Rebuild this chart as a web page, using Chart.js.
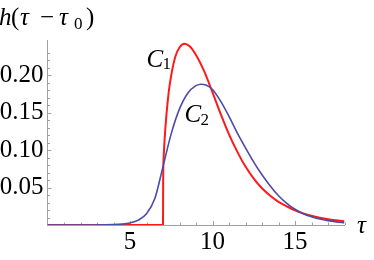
<!DOCTYPE html>
<html>
<head>
<meta charset="utf-8">
<script src="https://cdn.jsdelivr.net/npm/chart.js@4/dist/chart.umd.min.js"></script>
<style>
  html, body { margin: 0; padding: 0; background: #fff; }
  #wrap { width: 374px; height: 260px; }
</style>
</head>
<body>
<div id="wrap"><canvas id="plot" width="374" height="260"></canvas></div>
<script>
// C1 (red)
const tauC1 = [0, 7.0, 7.01, 7.04, 7.1, 7.2, 7.35, 7.5, 7.75, 8.0, 8.3, 8.6, 9.0, 9.5, 10.0, 10.5, 11.0, 11.5, 12.0, 12.5, 13.0, 13.5, 14.0, 14.5, 15.0, 15.5, 16.0, 16.5, 17.0, 17.5, 18.0];
const hC1   = [0, 0, 0.06, 0.09, 0.115, 0.145, 0.178, 0.2, 0.225, 0.237, 0.242, 0.239, 0.227, 0.205, 0.177, 0.148, 0.121, 0.098, 0.078, 0.062, 0.049, 0.039, 0.031, 0.025, 0.0195, 0.0155, 0.0123, 0.0098, 0.0078, 0.0063, 0.005];
// C2 (blue)
const tauC2 = [0, 3.0, 4.0, 4.5, 5.0, 5.5, 6.0, 6.5, 7.0, 7.5, 8.0, 8.5, 9.0, 9.3, 9.6, 10.0, 10.5, 11.0, 11.5, 12.0, 12.5, 13.0, 13.5, 14.0, 14.5, 15.0, 15.5, 16.0, 16.5, 17.0, 17.5, 18.0];
const hC2   = [0, 0, 0.0005, 0.0012, 0.0028, 0.0065, 0.015, 0.035, 0.078, 0.122, 0.155, 0.176, 0.186, 0.188, 0.187, 0.181, 0.165, 0.145, 0.123, 0.103, 0.084, 0.067, 0.052, 0.039, 0.029, 0.021, 0.015, 0.011, 0.008, 0.0058, 0.0042, 0.003];
// tick labels
const xTickLabels = [5, 10, 15];
const yTickLabels = [0.05, 0.10, 0.15, 0.20];

const serif = '"Liberation Serif", "DejaVu Serif", serif';
const axisGray = '#a0a0a0';

function toPoints(xs, ys) {
    return xs.map((x, i) => ({ x: x, y: ys[i] }));
}

// 內向刻度 (Mathematica 風格)
const inwardTicks = {
    id: 'inwardTicks',
    beforeDatasetsDraw(chart) {
        const ctx = chart.ctx;
        const xs = chart.scales.x, ys = chart.scales.y;
        const area = chart.chartArea;
        ctx.save();
        ctx.strokeStyle = axisGray;
        ctx.lineWidth = 1;
        xs.ticks.forEach(t => {
            const v = t.value;
            if (Math.abs(v - Math.round(v)) > 1e-6 || v === 0) return;
            const px = Math.round(xs.getPixelForValue(v)) + 0.5;
            const len = v % 5 === 0 ? 4 : 2.5;
            ctx.beginPath();
            ctx.moveTo(px, area.bottom);
            ctx.lineTo(px, area.bottom - len);
            ctx.stroke();
        });
        ys.ticks.forEach(t => {
            const v = t.value;
            const k = v / 0.01;
            if (Math.abs(k - Math.round(k)) > 1e-6 || v === 0) return;
            const py = Math.round(ys.getPixelForValue(v)) + 0.5;
            const len = Math.round(k) % 5 === 0 ? 4 : 2.5;
            ctx.beginPath();
            ctx.moveTo(area.left, py);
            ctx.lineTo(area.left + len, py);
            ctx.stroke();
        });
        ctx.restore();
    }
};

// 文字片段: 每段有自己的字型與 x 位置
function drawRuns(ctx, runs, x, y) {
    runs.forEach(r => {
        ctx.font = r.font;
        ctx.fillText(r.text, x + r.dx, y + (r.dy || 0));
    });
}

const labels = {
    id: 'labels',
    afterDraw(chart) {
        const ctx = chart.ctx;
        const xs = chart.scales.x, ys = chart.scales.y;
        const it = 'italic 25px ' + serif, rm = '25px ' + serif, sub = '17px ' + serif;
        ctx.save();
        ctx.fillStyle = '#000';
        ctx.textBaseline = 'alphabetic';
        ctx.textAlign = 'left';
        // 軸標題 h(τ − τ0)
        drawRuns(ctx, [
            { text: 'h', font: it, dx: 3 },
            { text: '(', font: rm, dx: 15 },
            { text: 'τ', font: it, dx: 24 },
            { text: '−', font: rm, dx: 44 },
            { text: 'τ', font: it, dx: 63 },
            { text: '0', font: sub, dx: 78, dy: 4 },
            { text: ')', font: rm, dx: 90 }
        ], -4, 25);
        ctx.font = it;
        ctx.fillText('τ', 357, 233);
        drawRuns(ctx, [{ text: 'C', font: it, dx: 0 }, { text: '1', font: sub, dx: 16, dy: 2 }],
            xs.getPixelForValue(6.0), ys.getPixelForValue(0.211));
        drawRuns(ctx, [{ text: 'C', font: it, dx: 0 }, { text: '2', font: sub, dx: 16, dy: 3 }],
            xs.getPixelForValue(8.3), ys.getPixelForValue(0.137));
        ctx.restore();
    }
};

new Chart(document.getElementById('plot'), {
    type: 'line',
    data: {
        datasets: [
            {
                label: 'C2',
                data: toPoints(tauC2, hC2),
                borderColor: '#4b4ba8',
                borderWidth: 1.6,
                pointRadius: 0,
                fill: false,
                cubicInterpolationMode: 'monotone',
                order: 0
            },
            {
                label: 'C1',
                data: toPoints(tauC1, hC1),
                borderColor: '#ff1a1a',
                borderWidth: 2,
                pointRadius: 0,
                fill: false,
                cubicInterpolationMode: 'monotone',
                order: 1
            }
        ]
    },
    options: {
        responsive: false,
        animation: false,
        events: [],
        layout: { padding: { top: 40, right: 29.5, left: 0, bottom: 0 } },
        plugins: { legend: { display: false }, tooltip: { enabled: false } },
        scales: {
            x: {
                type: 'linear',
                min: 0,
                max: 18,
                afterFit: s => { s.height = 35; },
                grid: { drawOnChartArea: false, drawTicks: false },
                border: { color: axisGray, width: 1 },
                ticks: {
                    stepSize: 1,
                    autoSkip: false,
                    maxRotation: 0,
                    padding: 2,
                    color: '#000',
                    font: { family: serif, size: 25 },
                    callback: v => xTickLabels.includes(v) ? String(v) : ''
                }
            },
            y: {
                type: 'linear',
                min: 0,
                max: 0.247,
                afterFit: s => { s.width = 47.5; },
                grid: { drawOnChartArea: false, drawTicks: false },
                border: { color: axisGray, width: 1 },
                ticks: {
                    stepSize: 0.01,
                    autoSkip: false,
                    padding: 4,
                    color: '#000',
                    font: { family: serif, size: 25 },
                    callback: v => {
                        const hit = yTickLabels.find(l => Math.abs(l - v) < 1e-6);
                        return hit ? hit.toFixed(2) : '';
                    }
                }
            }
        }
    },
    plugins: [inwardTicks, labels]
});
</script>
</body>
</html>
